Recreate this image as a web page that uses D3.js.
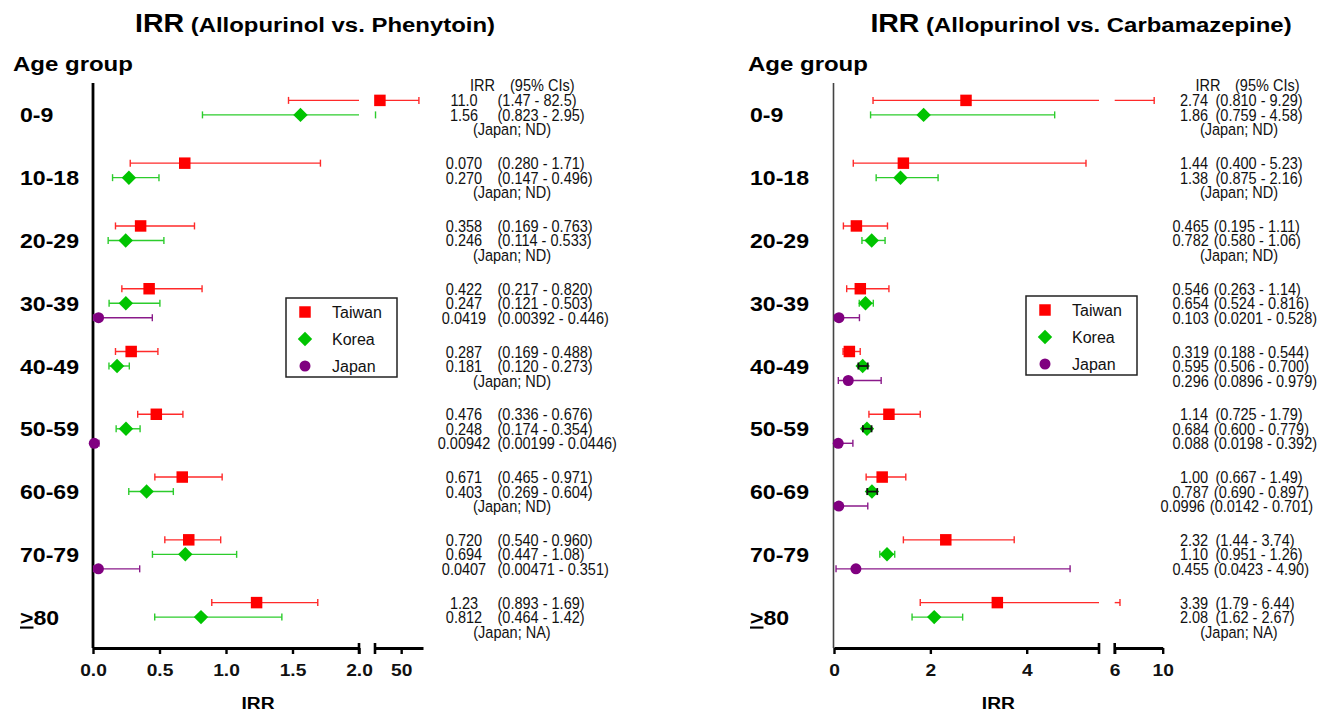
<!DOCTYPE html>
<html>
<head>
<meta charset="utf-8">
<script src="https://cdn.jsdelivr.net/npm/d3@7"></script>
<style>
  body { margin: 0; background: #fff; }
  svg { display: block; }
</style>
</head>
<body>
<div class="canvas"></div>
<script>
// age groups and countries
const ageGroups = ["0-9", "10-18", "20-29", "30-39", "40-49", "50-59", "60-69", "70-79", ">80"];
const countries = ["Taiwan", "Korea", "Japan"];

// Allopurinol vs. Phenytoin, [IRR, low, high], null = not shown
const phenTaiwan = [[11.0, 1.47, 82.5], [0.69, 0.280, 1.71], [0.358, 0.169, 0.763], [0.422, 0.217, 0.820],
  [0.287, 0.169, 0.488], [0.476, 0.336, 0.676], [0.671, 0.465, 0.971], [0.720, 0.540, 0.960], [1.23, 0.893, 1.69]];
const phenKorea = [[1.56, 0.823, 2.95], [0.270, 0.147, 0.496], [0.246, 0.114, 0.533], [0.247, 0.121, 0.503],
  [0.181, 0.120, 0.273], [0.248, 0.174, 0.354], [0.403, 0.269, 0.604], [0.694, 0.447, 1.08], [0.812, 0.464, 1.42]];
const phenJapan = [null, null, null, [0.0419, 0.00392, 0.446], null, [0.00942, 0.00199, 0.0446], null,
  [0.0407, 0.00471, 0.351], null];

// printed text column, one entry per age group
const phenLabels = [
  [["11.0", "(1.47 - 82.5)"], ["1.56", "(0.823 - 2.95)"], ["(Japan; ND)"]],
  [["0.070", "(0.280 - 1.71)"], ["0.270", "(0.147 - 0.496)"], ["(Japan; ND)"]],
  [["0.358", "(0.169 - 0.763)"], ["0.246", "(0.114 - 0.533)"], ["(Japan; ND)"]],
  [["0.422", "(0.217 - 0.820)"], ["0.247", "(0.121 - 0.503)"], ["0.0419", "(0.00392 - 0.446)"]],
  [["0.287", "(0.169 - 0.488)"], ["0.181", "(0.120 - 0.273)"], ["(Japan; ND)"]],
  [["0.476", "(0.336 - 0.676)"], ["0.248", "(0.174 - 0.354)"], ["0.00942", "(0.00199 - 0.0446)"]],
  [["0.671", "(0.465 - 0.971)"], ["0.403", "(0.269 - 0.604)"], ["(Japan; ND)"]],
  [["0.720", "(0.540 - 0.960)"], ["0.694", "(0.447 - 1.08)"], ["0.0407", "(0.00471 - 0.351)"]],
  [["1.23", "(0.893 - 1.69)"], ["0.812", "(0.464 - 1.42)"], ["(Japan; NA)"]]
];

// Allopurinol vs. Carbamazepine
const carbTaiwan = [[2.74, 0.810, 9.29], [1.44, 0.400, 5.23], [0.465, 0.195, 1.11], [0.546, 0.263, 1.14],
  [0.319, 0.188, 0.544], [1.14, 0.725, 1.79], [1.00, 0.667, 1.49], [2.32, 1.44, 3.74], [3.39, 1.79, 6.44]];
const carbKorea = [[1.86, 0.759, 4.58], [1.38, 0.875, 2.16], [0.782, 0.580, 1.06], [0.654, 0.524, 0.816],
  [0.595, 0.506, 0.700], [0.684, 0.600, 0.779], [0.787, 0.690, 0.897], [1.10, 0.951, 1.26], [2.08, 1.62, 2.67]];
const carbJapan = [null, null, null, [0.103, 0.0201, 0.528], [0.296, 0.0896, 0.979], [0.088, 0.0198, 0.392],
  [0.0996, 0.0142, 0.701], [0.455, 0.0423, 4.90], null];

const carbLabels = [
  [["2.74", "(0.810 - 9.29)"], ["1.86", "(0.759 - 4.58)"], ["(Japan; ND)"]],
  [["1.44", "(0.400 - 5.23)"], ["1.38", "(0.875 - 2.16)"], ["(Japan; ND)"]],
  [["0.465", "(0.195 - 1.11)"], ["0.782", "(0.580 - 1.06)"], ["(Japan; ND)"]],
  [["0.546", "(0.263 - 1.14)"], ["0.654", "(0.524 - 0.816)"], ["0.103", "(0.0201 - 0.528)"]],
  [["0.319", "(0.188 - 0.544)"], ["0.595", "(0.506 - 0.700)"], ["0.296", "(0.0896 - 0.979)"]],
  [["1.14", "(0.725 - 1.79)"], ["0.684", "(0.600 - 0.779)"], ["0.088", "(0.0198 - 0.392)"]],
  [["1.00", "(0.667 - 1.49)"], ["0.787", "(0.690 - 0.897)"], ["0.0996", "(0.0142 - 0.701)"]],
  [["2.32", "(1.44 - 3.74)"], ["1.10", "(0.951 - 1.26)"], ["0.455", "(0.0423 - 4.90)"]],
  [["3.39", "(1.79 - 6.44)"], ["2.08", "(1.62 - 2.67)"], ["(Japan; NA)"]]
];

const color = { Taiwan: "#ff0000", Korea: "#00c400", Japan: "#800080" };
const barColor = { Taiwan: "#ff2a2a", Korea: "#2ccc2c", Japan: "#8a1a8a" };
const sansFont = "'Liberation Sans', Arial, sans-serif";
const squeeze = 0.88;

const svg = d3.select(".canvas").append("svg")
    .attr("width", 1330)
    .attr("height", 714);

const axisY = 648;
const y = d3.scaleBand().domain(ageGroups).range([83.5, 648.5]);
const dy = d3.scalePoint().domain(countries).range([-14.5, 14.5]);
const rowY = (g, c) => y(g) + y.bandwidth() / 2 + dy(c);

const symbols = {
  Taiwan: d3.symbol(d3.symbolSquare, 132)(),
  Korea: d3.symbol(d3.symbolSquare, 104)(),
  Japan: d3.symbol(d3.symbolCircle, 95)()
};
const symTransform = (c, x, yy) => `translate(${x},${yy})` + (c === "Korea" ? " rotate(45)" : "");

const panels = [
  {
    title: "(Allopurinol vs. Phenytoin)", titleX: 315,
    groupX: 13, ageX: 20, yAxisX: 93, yAxisW: 2.8, yAxisColor: "#000",
    segments: [
      { domain: [0, 2], range: [93, 359], ticks: [0, 0.5, 1, 1.5, 2], fmt: d3.format(".1f") },
      { domain: [2, 90], range: [375, 423], ticks: [50], fmt: d3.format("d") }
    ],
    series: { Taiwan: phenTaiwan, Korea: phenKorea, Japan: phenJapan },
    labels: phenLabels,
    valX: 464, ciX: 497.5, noteX: 512, headIrrX: 482.5, headCiX: 510,
    legend: [286, 298]
  },
  {
    title: "(Allopurinol vs. Carbamazepine)", titleX: 1081,
    groupX: 748, ageX: 750, yAxisX: 833.5, yAxisW: 1.6, yAxisColor: "#444",
    segments: [
      { domain: [0, 5.5], range: [834, 1099], ticks: [0, 2, 4], fmt: d3.format("d") },
      { domain: [6, 10], range: [1114.7, 1162.7], ticks: [6, 10], fmt: d3.format("d") }
    ],
    series: { Taiwan: carbTaiwan, Korea: carbKorea, Japan: carbJapan },
    labels: carbLabels,
    valX: 1194, ciX: 1215.5, noteX: 1239, headIrrX: 1208, headCiX: 1235,
    legend: [1026, 296]
  }
];

// narrow-looking label: regular sans squeezed horizontally
function small(sel, x, yy, str, anchor) {
  return sel.append("text")
      .attr("transform", `translate(${x},${yy}) scale(${squeeze},1)`)
      .attr("text-anchor", anchor || "start")
      .text(str);
}

function drawPanel(p) {
  const segs = p.segments.map(s => Object.assign({}, s, {
    scale: d3.scaleLinear().domain(s.domain).range(s.range)
  }));
  const segOf = v => segs.find(s => v >= s.domain[0] && v <= s.domain[1]);
  const xPos = v => { const s = segOf(v); return s ? s.scale(v) : null; };

  const g = svg.append("g");

  // title
  const title = g.append("text")
      .attr("transform", `translate(${p.titleX},32) scale(1.14,1)`)
      .attr("text-anchor", "middle")
      .style("font-family", sansFont)
      .style("font-weight", "bold");
  title.append("tspan").style("font-size", "25px").text("IRR");
  title.append("tspan").style("font-size", "21px").text(" " + p.title);

  g.append("text")
      .attr("transform", `translate(${p.groupX},71) scale(1.2,1)`)
      .style("font-family", sansFont)
      .style("font-weight", "bold")
      .style("font-size", "20px")
      .text("Age group");

  // age group labels
  ageGroups.forEach(a => {
    const t = g.append("text")
        .attr("transform", `translate(${p.ageX},${y(a) + y.bandwidth() / 2 + 7.5}) scale(1.1,1)`)
        .style("font-family", sansFont)
        .style("font-weight", "bold")
        .style("font-size", "21px");
    if (a.startsWith(">")) {
      t.append("tspan").style("text-decoration", "underline").text(">");
      t.append("tspan").text(a.slice(1));
    } else {
      t.text(a);
    }
  });

  // y axis line
  g.append("line")
      .attr("x1", p.yAxisX).attr("x2", p.yAxisX)
      .attr("y1", 83).attr("y2", axisY)
      .attr("stroke", p.yAxisColor)
      .attr("stroke-width", p.yAxisW);

  // x axis, one piece per segment
  segs.forEach((s, i) => {
    const ax = g.append("g")
        .attr("transform", `translate(0,${axisY})`)
        .call(d3.axisBottom(s.scale).tickValues(s.ticks).tickFormat(s.fmt).tickSize(6).tickSizeOuter(0));
    ax.select(".domain").attr("stroke", "#000").attr("stroke-width", 2.8);
    ax.selectAll(".tick line").attr("stroke", "#000").attr("stroke-width", 2.4);
    ax.selectAll(".tick text")
        .attr("y", 28).attr("dy", null)
        .attr("transform", "scale(1.2,1)")
        .attr("fill", "#111")
        .style("font-family", sansFont)
        .style("font-weight", "bold")
        .style("font-size", "16px");
    // break caps
    const caps = [];
    if (i > 0) caps.push(s.range[0]);
    if (i < segs.length - 1) caps.push(s.range[1]);
    caps.forEach(cx => {
      g.append("line")
          .attr("x1", cx).attr("x2", cx)
          .attr("y1", axisY - 5).attr("y2", axisY + 6)
          .attr("stroke", "#000").attr("stroke-width", 2.6);
    });
  });

  const x0 = segs[0].range[0], x1 = segs[segs.length - 1].range[1];
  g.append("text")
      .attr("transform", `translate(${(x0 + x1) / 2},709) scale(1.13,1)`)
      .attr("text-anchor", "middle")
      .style("font-family", sansFont)
      .style("font-weight", "bold")
      .style("font-size", "17px")
      .text("IRR");

  // error bars and markers
  countries.forEach(c => {
    p.series[c].forEach((d, i) => {
      if (!d) return;
      const [est, lo, hi] = d;
      const yy = rowY(ageGroups[i], c);
      const width = xPos(hi) - xPos(lo);
      const onTop = c === "Korea" && width < 13;
      const bar = g.append("g")
          .attr("stroke", onTop ? "#111" : barColor[c])
          .attr("stroke-width", onTop ? 1.8 : 1.4);
      segs.forEach(s => {
        const a = Math.max(lo, s.domain[0]), b = Math.min(hi, s.domain[1]);
        if (a < b) {
          bar.append("line")
              .attr("x1", s.scale(a)).attr("x2", s.scale(b))
              .attr("y1", yy).attr("y2", yy);
        }
      });
      [lo, hi].forEach(v => {
        const px = xPos(v);
        if (px === null) return;
        bar.append("line")
            .attr("x1", px).attr("x2", px)
            .attr("y1", yy - 3.5).attr("y2", yy + 3.5);
      });
      g.append("path")
          .attr("d", symbols[c])
          .attr("transform", symTransform(c, xPos(est), yy))
          .attr("fill", color[c]);
      if (onTop) bar.raise();
    });
  });

  // text column
  const txt = g.append("g")
      .style("font-family", sansFont)
      .style("font-size", "16.5px")
      .attr("fill", "#111");
  const headY = rowY(ageGroups[0], "Taiwan") - 15.5 + 6;
  small(txt, p.headIrrX, headY, "IRR", "middle");
  small(txt, p.headCiX, headY, "(95% CIs)");
  p.labels.forEach((lines, i) => {
    lines.forEach((ln, k) => {
      const yy = rowY(ageGroups[i], countries[k]) + 6;
      if (ln.length === 1) {
        small(txt, p.noteX, yy, ln[0], "middle");
      } else {
        const v = small(txt, p.valX, yy, ln[0], "middle");
        const half = v.node().getComputedTextLength() * squeeze / 2;
        // a long value pushes the line left and opens a gap before the interval
        const shift = Math.max(0, p.valX + half + 5 - p.ciX);
        if (shift > 0) v.attr("transform", `translate(${p.valX - 2 * shift},${yy}) scale(${squeeze},1)`);
        small(txt, p.ciX - shift, yy, ln[1]);
      }
    });
  });

  // legend
  const [lx, ly] = p.legend;
  const leg = g.append("g").attr("transform", `translate(${lx},${ly})`);
  leg.append("rect")
      .attr("width", 111).attr("height", 79)
      .attr("fill", "#fff")
      .attr("stroke", "#222").attr("stroke-width", 1.5);
  countries.forEach((c, k) => {
    const yy = 14 + k * 27;
    leg.append("path")
        .attr("d", symbols[c])
        .attr("transform", symTransform(c, 19, yy))
        .attr("fill", color[c]);
    leg.append("text")
        .attr("x", 46).attr("y", yy + 5.5)
        .style("font-family", sansFont)
        .style("font-size", "16px")
        .attr("fill", "#111")
        .text(c);
  });
}

panels.forEach(drawPanel);
</script>
</body>
</html>
